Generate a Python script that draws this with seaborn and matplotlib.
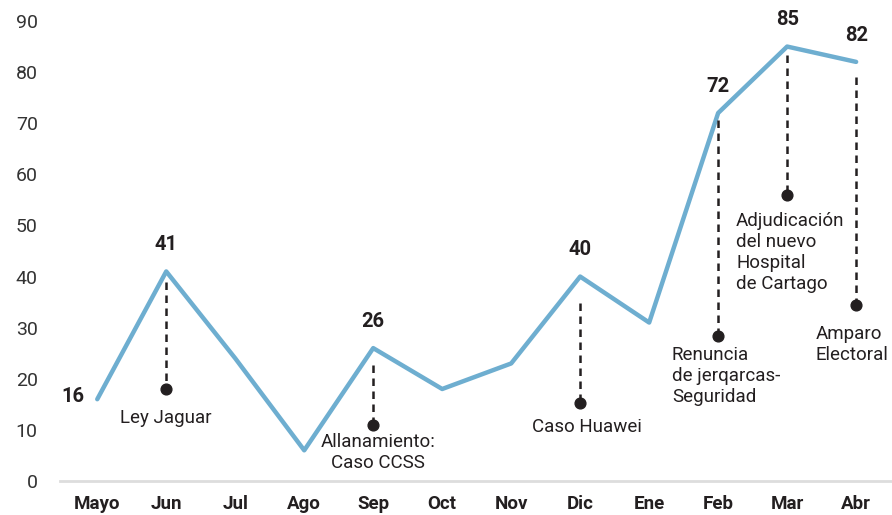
import pandas as pd
import numpy as np
import matplotlib
matplotlib.use("Agg")
import matplotlib.pyplot as plt
import seaborn as sns

# data
months = ["Mayo", "Jun", "Jul", "Ago", "Sep", "Oct", "Nov", "Dic", "Ene", "Feb", "Mar", "Abr"]
values = [16, 41, 24, 6, 26, 18, 23, 40, 31, 72, 85, 82]
labeled = ["Mayo", "Jun", "Sep", "Dic", "Feb", "Mar", "Abr"]

event_months = ["Jun", "Sep", "Dic", "Feb", "Mar", "Abr"]
event_texts = ["Ley Jaguar", "Allanamiento:\nCaso CCSS", "Caso Huawei",
               "Renuncia\nde jerqarcas-\nSeguridad",
               "Adjudicación\ndel nuevo\nHospital\nde Cartago",
               "Amparo\nElectoral"]

# layout of the callouts (dash top, dot, text anchor)
dash_top = [39, 22.7, 34.8, 70.6, 83.3, 79]
dot_y = [18.0, 11.0, 15.3, 28.4, 56.0, 34.4]
text_pos = [(1.0, 12.3, "center", "center"), (4.07, 9.4, "center", "top"),
            (7.1, 10.6, "center", "center"), (8.33, 26.4, "left", "top"),
            (9.26, 52.6, "left", "top"), (10.41, 30.5, "left", "top")]

df = pd.DataFrame({"mes": months, "valor": values})
df["x"] = np.arange(len(months))

sns.set_style("white")
plt.rcParams["font.family"] = ["Roboto", "DejaVu Sans"]
ink = "#231f20"

fig = plt.figure(figsize=(8.92, 5.15), dpi=100)
ax = fig.add_axes([60 / 892, 34 / 515, 832 / 892, 460 / 515])

sns.lineplot(data=df, x="x", y="valor", ax=ax, color="#6eaed0", linewidth=3.2)

ax.set_xlim(-0.54, 11.52)
ax.set_ylim(0, 90)
ax.set_yticks(range(0, 91, 10))
ax.set_xticks(df["x"])
ax.set_xticklabels(months, fontweight="bold", fontsize=13.5, color=ink)
ax.tick_params(axis="y", length=0, pad=16, labelsize=14, labelcolor="#333333")
ax.tick_params(axis="x", length=0, pad=10)
ax.set_xlabel("")
ax.set_ylabel("")
sns.despine(ax=ax, left=True)
ax.spines["bottom"].set_color("#dddddd")
ax.spines["bottom"].set_linewidth(2)
ax.spines["bottom"].set_zorder(0)

# value labels
for m in labeled:
    i = months.index(m)
    v = values[i]
    if i == 0:
        ax.text(i - 0.35, v + 0.6, str(v), ha="center", va="center",
                fontweight="bold", fontsize=14.5, color=ink)
    else:
        ax.text(i, v + 5.2, str(v), ha="center", va="center",
                fontweight="bold", fontsize=14.5, color=ink)

# event callouts
for m, top, dy, txt, (tx, ty, ha, va) in zip(event_months, dash_top, dot_y, event_texts, text_pos):
    i = months.index(m)
    ax.plot([i, i], [top, dy], color=ink, linestyle=(0, (3, 2.2)), linewidth=1.8)
    ax.scatter([i], [dy], color=ink, s=60, zorder=5)
    ax.text(tx, ty, txt, ha=ha, va=va, fontsize=13.5, color=ink, linespacing=1.2)

fig.savefig("out.png", dpi=100)
